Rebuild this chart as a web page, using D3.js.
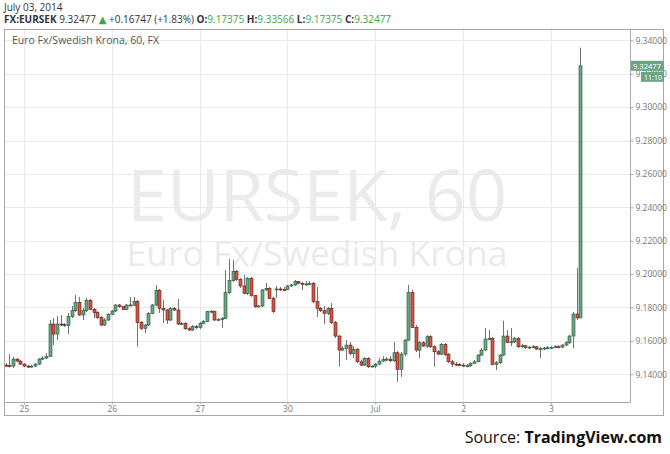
<!DOCTYPE html>
<html><head><meta charset="utf-8">
<script src="https://cdn.jsdelivr.net/npm/d3@7/dist/d3.min.js"></script>
<style>html,body{margin:0;padding:0;background:#fff;}svg{display:block;}</style>
</head><body>
<svg id="c" width="670" height="454"></svg>
<script>
// ---- data (hourly candles, EURSEK, June 24 19:00 .. July 3 08:00) ----
const openV = [9.1455,9.1452,9.1449,9.1491,9.1479,9.1461,9.1449,9.1446,9.1449,9.1461,
9.1491,9.1497,9.1506,9.1701,9.1641,9.1701,9.1698,9.1692,9.1745,9.1781,
9.1831,9.1755,9.1781,9.1843,9.1789,9.1769,9.1739,9.1695,9.1725,9.1759,
9.1779,9.1815,9.1805,9.1789,9.1815,9.1813,9.1835,9.1709,9.1675,9.1695,
9.1764,9.1815,9.1901,9.1795,9.1785,9.1725,9.1795,9.1785,9.1701,9.1705,
9.1673,9.1665,9.1685,9.1680,9.1705,9.1715,9.1775,9.1778,9.1725,9.1729,
9.1735,9.1889,9.1961,9.2017,9.1969,9.1929,9.1885,9.1975,9.1871,9.1805,
9.1809,9.1905,9.1915,9.1855,9.1905,9.1911,9.1909,9.1907,9.1929,9.1935,
9.1955,9.1945,9.1939,9.1941,9.1945,9.1835,9.1795,9.1781,9.1765,9.1795,
9.1709,9.1629,9.1545,9.1555,9.1575,9.1525,9.1549,9.1475,9.1455,9.1495,
9.1445,9.1449,9.1461,9.1479,9.1489,9.1491,9.1481,9.1529,9.1429,9.1521,
9.1605,9.1889,9.1681,9.1545,9.1589,9.1569,9.1625,9.1565,9.1535,9.1521,
9.1579,9.1519,9.1475,9.1461,9.1459,9.1455,9.1449,9.1451,9.1465,9.1475,
9.1515,9.1545,9.1611,9.1615,9.1459,9.1469,9.1515,9.1629,9.1591,9.1595,
9.1615,9.1565,9.1571,9.1561,9.1563,9.1565,9.1551,9.1555,9.1557,9.1559,
9.1561,9.1565,9.1563,9.1575,9.1589,9.1629,9.1761,9.17375];
const highV = [9.1467,9.1521,9.1503,9.1497,9.1485,9.1467,9.1455,9.1455,9.1467,9.1497,
9.1509,9.1527,9.1725,9.1737,9.1749,9.1755,9.1707,9.1767,9.1809,9.1875,
9.1863,9.1797,9.1857,9.1851,9.1797,9.1779,9.1749,9.1737,9.1767,9.1785,
9.1821,9.1821,9.1809,9.1821,9.1863,9.1863,9.1845,9.1719,9.1701,9.1773,
9.1821,9.1935,9.1911,9.1845,9.1791,9.1803,9.1803,9.1851,9.1713,9.1713,
9.1683,9.1695,9.1695,9.1713,9.1725,9.1779,9.1785,9.1779,9.1737,9.1743,
9.2025,9.2091,9.2085,9.2025,9.1977,9.1995,9.1983,9.1983,9.1875,9.1815,
9.1911,9.1947,9.1923,9.1863,9.1929,9.1923,9.1923,9.1935,9.1941,9.1965,
9.1959,9.1953,9.1959,9.1959,9.1953,9.1923,9.1803,9.1809,9.1803,9.1827,
9.1719,9.1635,9.1569,9.1605,9.1593,9.1569,9.1557,9.1485,9.1503,9.1503,
9.1455,9.1467,9.1497,9.1509,9.1503,9.1509,9.1593,9.1539,9.1533,9.1611,
9.1935,9.1905,9.1695,9.1599,9.1599,9.1635,9.1635,9.1575,9.1545,9.1587,
9.1587,9.1527,9.1485,9.1473,9.1467,9.1467,9.1461,9.1473,9.1485,9.1521,
9.1557,9.1677,9.1665,9.1623,9.1479,9.1521,9.1721,9.1665,9.1677,9.1623,
9.1623,9.1581,9.1575,9.1569,9.1575,9.1569,9.1563,9.1563,9.1569,9.1569,
9.1575,9.1575,9.1581,9.1599,9.1635,9.1773,9.2035,9.33566];
const lowV = [9.1443,9.1440,9.1437,9.1473,9.1455,9.1443,9.1437,9.1440,9.1443,9.1455,
9.1485,9.1491,9.1503,9.1575,9.1605,9.1689,9.1683,9.1641,9.1737,9.1773,
9.1749,9.1725,9.1773,9.1785,9.1737,9.1731,9.1689,9.1689,9.1719,9.1755,
9.1773,9.1797,9.1785,9.1785,9.1809,9.1809,9.1565,9.1665,9.1647,9.1689,
9.1761,9.1809,9.1767,9.1707,9.1701,9.1719,9.1779,9.1695,9.1695,9.1665,
9.1659,9.1659,9.1671,9.1671,9.1701,9.1713,9.1767,9.1719,9.1719,9.1677,
9.1731,9.1881,9.1953,9.1959,9.1917,9.1881,9.1875,9.1863,9.1797,9.1803,
9.1803,9.1899,9.1851,9.1767,9.1857,9.1899,9.1899,9.1905,9.1923,9.1929,
9.1941,9.1905,9.1929,9.1935,9.1827,9.1743,9.1773,9.1701,9.1755,9.1701,
9.1617,9.1445,9.1539,9.1485,9.1515,9.1497,9.1467,9.1449,9.1449,9.1437,
9.1443,9.1437,9.1455,9.1473,9.1479,9.1473,9.1473,9.1355,9.1385,9.1509,
9.1599,9.1677,9.1533,9.1497,9.1563,9.1557,9.1557,9.1445,9.1515,9.1515,
9.1509,9.1467,9.1443,9.1449,9.1449,9.1443,9.1443,9.1443,9.1467,9.1473,
9.1509,9.1539,9.1605,9.1455,9.1425,9.1461,9.1509,9.1587,9.1569,9.1587,
9.1557,9.1557,9.1551,9.1551,9.1557,9.1545,9.1497,9.1545,9.1551,9.1551,
9.1557,9.1557,9.1557,9.1569,9.1581,9.1555,9.1725,9.17375];
const closeV = [9.1452,9.1449,9.1491,9.1479,9.1461,9.1449,9.1446,9.1449,9.1461,9.1491,
9.1497,9.1506,9.1701,9.1641,9.1701,9.1698,9.1692,9.1745,9.1781,9.1831,
9.1755,9.1781,9.1843,9.1789,9.1769,9.1739,9.1695,9.1725,9.1759,9.1779,
9.1815,9.1805,9.1789,9.1815,9.1813,9.1835,9.1709,9.1675,9.1695,9.1764,
9.1815,9.1901,9.1795,9.1785,9.1725,9.1795,9.1785,9.1701,9.1705,9.1673,
9.1665,9.1685,9.1680,9.1705,9.1715,9.1775,9.1778,9.1725,9.1729,9.1735,
9.1889,9.1961,9.2017,9.1969,9.1929,9.1885,9.1975,9.1871,9.1805,9.1809,
9.1905,9.1915,9.1855,9.1775,9.1911,9.1909,9.1907,9.1929,9.1935,9.1955,
9.1945,9.1939,9.1941,9.1945,9.1835,9.1795,9.1781,9.1765,9.1795,9.1709,
9.1629,9.1545,9.1555,9.1575,9.1525,9.1549,9.1475,9.1455,9.1495,9.1445,
9.1449,9.1461,9.1479,9.1489,9.1491,9.1481,9.1529,9.1429,9.1521,9.1605,
9.1889,9.1681,9.1545,9.1589,9.1569,9.1625,9.1565,9.1535,9.1521,9.1579,
9.1519,9.1475,9.1461,9.1459,9.1455,9.1449,9.1451,9.1465,9.1475,9.1515,
9.1545,9.1611,9.1615,9.1459,9.1469,9.1515,9.1629,9.1591,9.1595,9.1615,
9.1565,9.1571,9.1561,9.1563,9.1565,9.1551,9.1555,9.1557,9.1559,9.1561,
9.1565,9.1563,9.1575,9.1589,9.1629,9.1761,9.17375,9.32477];
const dayTickIndex = [5, 29, 53, 77, 101, 125, 149];
const dayTickLabels = ["25", "26", "27", "30", "Jul", "2", "3"];
const priceTicks = [9.14, 9.16, 9.18, 9.20, 9.22, 9.24, 9.26, 9.28, 9.30, 9.32, 9.34];
const prevDayClose = 9.1573;
const symbol = "FX:EURSEK";
const dateLabel = "July 03, 2014";
const chartTitle = "Euro Fx/Swedish Krona, 60, FX";
const watermark1 = "EURSEK, 60";
const watermark2 = "Euro Fx/Swedish Krona";
const countdown = "11:10";

// ---- layout ----
const svg = d3.select("#c");
const L = 4, R = 630, T = 29, B = 402, FR = 664, FB = 416;
const font = "'Open Sans', 'DejaVu Sans', sans-serif";
const upFill = "#6ba583", upLine = "#225437", dnFill = "#d75442", dnLine = "#5b1a13", wick = "#737375";
const green = "#3aa648";

const candles = closeV.map((c, i) => ({i, o: openV[i], h: highV[i], l: lowV[i], c}));
const x = d3.scaleLinear().domain([-0.46, 170.6]).range([L, R]);
const y = d3.scaleLinear().domain([9.1234, 9.3468]).range([B, T]);

// frame
svg.append("rect").attr("x", L + 0.5).attr("y", T + 0.5).attr("width", FR - L - 1).attr("height", FB - T - 1)
  .attr("fill", "#fff").attr("stroke", "#a8a8a8");

// grid
const grid = svg.append("g");
grid.selectAll("line.h").data(priceTicks).join("line")
  .attr("x1", L + 1).attr("x2", R).attr("y1", d => Math.round(y(d)) + 0.5).attr("y2", d => Math.round(y(d)) + 0.5)
  .attr("stroke", "#e9e9e9");
grid.selectAll("line.v").data(dayTickIndex).join("line")
  .attr("y1", T + 1).attr("y2", B).attr("x1", d => Math.round(x(d)) + 0.5).attr("x2", d => Math.round(x(d)) + 0.5)
  .attr("stroke", "#e9e9e9");

// watermark
const cx = (L + R) / 2;
svg.append("text").attr("x", cx).attr("y", 221).attr("text-anchor", "middle")
  .attr("font-family", font).attr("font-size", 72).attr("fill", "#ebebeb").text(watermark1);
svg.append("text").attr("x", cx).attr("y", 266).attr("text-anchor", "middle")
  .attr("font-family", font).attr("font-size", 35.5).attr("fill", "#ebebeb").text(watermark2);

// title in chart
svg.append("text").attr("x", 12).attr("y", 44).attr("font-family", font).attr("font-size", 10.5)
  .attr("fill", "#555").text(chartTitle);

// candles
const cg = svg.append("g");
cg.selectAll("line.w").data(candles).join("line")
  .attr("x1", d => Math.round(x(d.i)) + 0.5).attr("x2", d => Math.round(x(d.i)) + 0.5)
  .attr("y1", d => y(d.h)).attr("y2", d => y(d.l)).attr("stroke", wick).attr("stroke-width", 1);
cg.selectAll("rect.b").data(candles).join("rect")
  .attr("x", d => Math.round(x(d.i)) - 1)
  .attr("width", 3)
  .attr("y", d => y(Math.max(d.o, d.c)))
  .attr("height", d => Math.max(1, Math.abs(y(d.o) - y(d.c))))
  .attr("fill", d => d.c >= d.o ? upFill : dnFill)
  .attr("stroke", d => d.c >= d.o ? upLine : dnLine).attr("stroke-width", 0.6);

// axes lines
svg.append("line").attr("x1", R + 0.5).attr("x2", R + 0.5).attr("y1", T).attr("y2", B + 0.5).attr("stroke", "#a8a8a8");
svg.append("line").attr("x1", L).attr("x2", R + 0.5).attr("y1", B + 0.5).attr("y2", B + 0.5).attr("stroke", "#a8a8a8");

// y axis (right)
const yAxis = d3.axisRight(y).tickValues(priceTicks).tickFormat(d3.format(".5f")).tickSize(3).tickPadding(2);
const ya = svg.append("g").attr("transform", `translate(${R + 0.5},0)`).call(yAxis);
ya.select(".domain").remove();
ya.selectAll("line").attr("stroke", "#a8a8a8");
ya.selectAll("text").attr("font-family", font).attr("font-size", 8.5).attr("fill", "#777");

// x axis
const xAxis = d3.axisBottom(x).tickValues(dayTickIndex).tickFormat((d, k) => dayTickLabels[k]).tickSize(2).tickPadding(1);
const xa = svg.append("g").attr("transform", `translate(0,${B + 0.5})`).call(xAxis);
xa.select(".domain").remove();
xa.selectAll("line").attr("stroke", "#a8a8a8");
xa.selectAll("text").attr("font-family", font).attr("font-size", 8.5).attr("fill", "#777");

// last price label
const last = candles[candles.length - 1];
const ly = y(last.c);
svg.append("rect").attr("x", R + 1).attr("y", ly - 5).attr("width", FR - R - 1).attr("height", 10).attr("fill", upFill);
svg.append("text").attr("x", R + 3).attr("y", ly + 3).attr("font-family", font).attr("font-size", 8)
  .attr("textLength", 28).attr("lengthAdjust", "spacingAndGlyphs")
  .attr("fill", "#fff").text(d3.format(".5f")(last.c));
svg.append("rect").attr("x", 641).attr("y", ly + 6).attr("width", FR - 641).attr("height", 10).attr("fill", upFill);
svg.append("text").attr("x", 644).attr("y", ly + 14).attr("font-family", font).attr("font-size", 8)
  .attr("textLength", 18).attr("lengthAdjust", "spacingAndGlyphs")
  .attr("fill", "#fff").text(countdown);

// header
svg.append("text").attr("x", 4).attr("y", 11).attr("font-family", font).attr("font-size", 10)
  .attr("fill", "#333").text(dateLabel);
const chg = last.c - prevDayClose;
const f5 = d3.format(".5f");
const parts = [
  {t: symbol + " ", b: true}, {t: f5(last.c) + " "}, {t: "▲", g: true},
  {t: " +" + f5(chg) + " (+" + d3.format(".2f")(chg / prevDayClose * 100) + "%) "},
  {t: "O:", b: true}, {t: f5(last.o) + " ", g: true},
  {t: "H:", b: true}, {t: f5(last.h) + " ", g: true},
  {t: "L:", b: true}, {t: f5(last.l) + " ", g: true},
  {t: "C:", b: true}, {t: f5(last.c), g: true}
];
const ht = svg.append("text").attr("x", 4).attr("y", 23).attr("font-family", font).attr("font-size", 10)
  .attr("fill", "#333").attr("xml:space", "preserve");
parts.forEach(p => ht.append("tspan").attr("font-weight", p.b ? "bold" : "normal")
  .attr("fill", p.g ? green : "#333").text(p.t));

// source
const st = svg.append("text").attr("x", 662).attr("y", 443).attr("text-anchor", "end")
  .attr("font-family", font).attr("font-size", 16).attr("fill", "#111");
st.append("tspan").text("Source: ");
st.append("tspan").attr("font-weight", "bold").text("TradingView.com");
</script>
</body></html>
